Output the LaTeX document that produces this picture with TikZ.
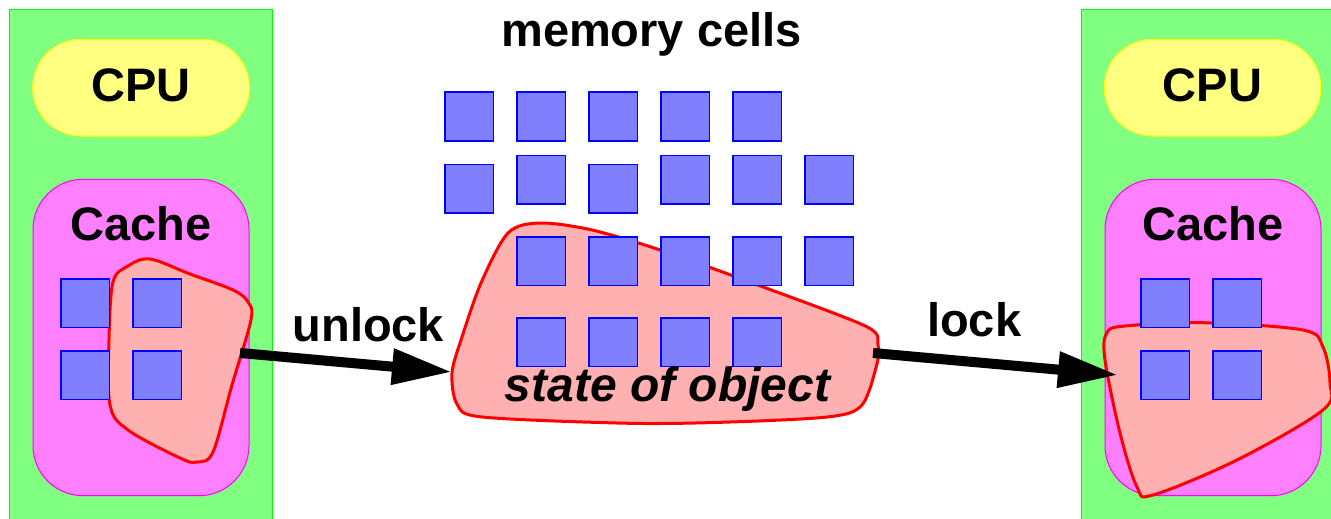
\documentclass[tikz,border=0pt]{standalone}
\usepackage{fontspec}
\setmainfont{Liberation Sans}
\usetikzlibrary{arrows.meta}
\definecolor{pgreen}{HTML}{80FF80}
\definecolor{bgreen}{HTML}{00FF00}
\definecolor{pyellow}{HTML}{FFFF80}
\definecolor{byellow}{HTML}{FFFF00}
\definecolor{pmag}{HTML}{FF80FF}
\definecolor{bmag}{HTML}{FF00FF}
\definecolor{pblue}{HTML}{8080FF}
\definecolor{bblue}{HTML}{0000FF}
\definecolor{pblob}{HTML}{FFB0B0}
\definecolor{bred}{HTML}{FF0000}
\tikzset{
  panel/.style={draw=bgreen, fill=pgreen, line width=1pt},
  cpubox/.style={draw=byellow, fill=pyellow, line width=1pt, rounded corners=48pt},
  cachebox/.style={draw=bmag, fill=pmag, line width=1pt, rounded corners=50pt},
  cell/.style={draw=bblue, fill=pblue, line width=1.5pt, minimum size=48.5pt, inner sep=0pt},
  blob/.style={draw=bred, fill=pblob, line width=3pt},
  lbl/.style={anchor=base, inner sep=0pt, font=\fontsize{47}{56}\selectfont\bfseries},
  arr/.style={line width=10pt, -{Triangle[length=60pt,width=34pt]}}
}
\begin{document}
\begin{tikzpicture}[x=1pt,y=-1pt]
\useasboundingbox (0,0) rectangle (1331,519);
% left panel
\draw[panel] (9,10) rectangle (272.7,525);
\draw[cpubox] (32.7,39.3) rectangle (249.3,136);
\draw[cachebox] (33,179.3) rectangle (249,495.7);
\draw[blob] plot[smooth cycle, tension=0.55] coordinates {(113,282) (128,266) (150,259) (190,274) (233,290) (248,302) (251,320) (232,385) (213,452) (197,462) (180,458) (128,430) (110,405) (109,340)};
\node[cell] (a1) at (85,303.3) {};
\node[cell] (a2) at (157,303.3) {};
\node[cell] (a3) at (85,375.3) {};
\node[cell] (a4) at (157,375.3) {};
\node[lbl] (cpuL) at (141,101.7) {CPU};
\node[lbl] (cacheL) at (141,240) {Cache};
% right panel
\draw[panel] (1081,10) rectangle (1340,525);
\draw[cpubox] (1104.3,39.3) rectangle (1320.7,136);
\draw[cachebox] (1105,179.3) rectangle (1321,495.7);
\draw[blob] plot[smooth cycle, tension=0.55] coordinates {(1106.7,333) (1125,326) (1203,322.7) (1303,330) (1323,347) (1330,383) (1323,410) (1237,460) (1153,495) (1137,487) (1120,433) (1105,360)};
\node[cell] (b1) at (1165,303.3) {};
\node[cell] (b2) at (1237,303.3) {};
\node[cell] (b3) at (1165,375.3) {};
\node[cell] (b4) at (1237,375.3) {};
\node[lbl] (cpuR) at (1212.5,101.7) {CPU};
\node[lbl] (cacheR) at (1213,240) {Cache};
% middle
\draw[blob] plot[smooth cycle, tension=0.5] coordinates {(540,223) (592,230) (663.3,251) (763.3,287) (866.7,326.7) (878,345) (876.7,365) (862,405) (830,416.7) (730,422) (630,423.3) (482,417) (457,404) (452,373) (461,340) (481,283) (508,233)};
\node[lbl] (mem) at (651.5,46.7) {memory cells};
\foreach \c [count=\i] in {469,541,613,685,757} \node[cell] (r1c\i) at (\c,116.5) {};
\node[cell] (r2c1) at (469,188.5) {};
\node[cell] (r2c2) at (541,179.5) {};
\node[cell] (r2c3) at (613,188.5) {};
\node[cell] (r2c4) at (685,179.5) {};
\node[cell] (r2c5) at (757,179.5) {};
\node[cell] (r2c6) at (829,179.5) {};
\foreach \c [count=\i] in {541,613,685,757,829} \node[cell] (r3c\i) at (\c,261) {};
\foreach \c [count=\i] in {541,613,685,757} \node[cell] (r4c\i) at (\c,342) {};
\node[lbl, font=\fontsize{48}{56}\selectfont\bfseries\itshape] (state) at (667.5,401.7) {state of object};
% arrows
\coordinate (uS) at (240,353);
\coordinate (uE) at (452,372);
\coordinate (lS) at (873,353);
\coordinate (lE) at (1118,375);
\draw[arr] (uS) -- (uE);
\draw[arr] (lS) -- (lE);
\node[lbl] (unlock) at (368.3,341.7) {unlock};
\node[lbl] (lock) at (974.2,336) {lock};
\end{tikzpicture}
\end{document}
